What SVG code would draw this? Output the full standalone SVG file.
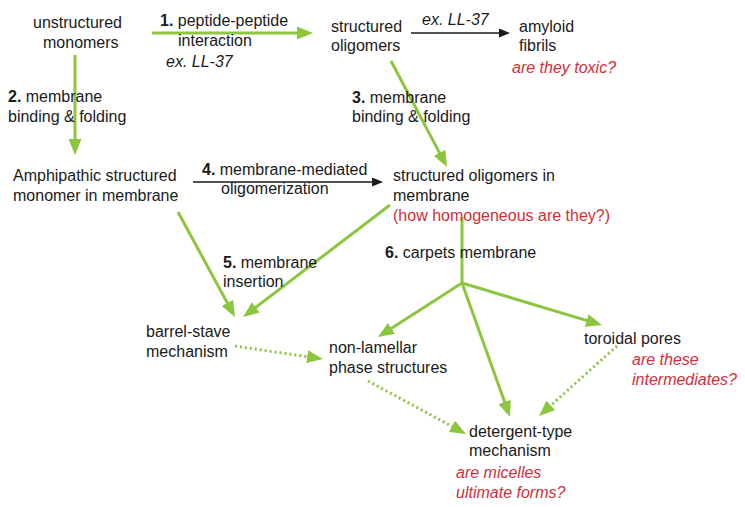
<svg xmlns="http://www.w3.org/2000/svg" width="745" height="507" viewBox="0 0 745 507">
<style>
text{font-family:"Liberation Sans",Arial,sans-serif;font-size:16px;fill:#1a1a1a}
.b{font-weight:bold}
.i{font-style:italic}
.r{fill:#d0303a;font-style:italic}
.g{stroke:#8cc63f;stroke-width:3;fill:none;marker-end:url(#ga)}
.gl{stroke:#8cc63f;stroke-width:3;fill:none}
.d{stroke:#8cc63f;stroke-width:3;fill:none;stroke-dasharray:2 3;marker-end:url(#ga)}
.k{stroke:#1a1a1a;stroke-width:1.3;fill:none;marker-end:url(#ka)}
</style>
<defs>
<marker id="ga" markerUnits="userSpaceOnUse" markerWidth="16" markerHeight="13" refX="11" refY="6.5" orient="auto">
<path d="M0,0 L16,6.5 L0,13 z" fill="#8cc63f"/>
</marker>
<marker id="ka" markerUnits="userSpaceOnUse" markerWidth="11" markerHeight="9" refX="9" refY="4.5" orient="auto">
<path d="M0,0 L11,4.5 L0,9 z" fill="#1a1a1a"/>
</marker>
</defs>
<g id="connectors">
<line class="g" x1="152" y1="33" x2="308" y2="33"/>
<line class="g" x1="75" y1="55" x2="75" y2="150"/>
<line class="g" x1="391" y1="61" x2="444.7" y2="162.6"/>
<line class="k" x1="411" y1="33" x2="508" y2="33"/>
<line class="k" x1="193" y1="182" x2="381" y2="182"/>
<line class="g" x1="178" y1="212" x2="232.6" y2="312.6"/>
<line class="g" x1="390" y1="205" x2="247" y2="314"/>
<line class="gl" x1="462" y1="217" x2="462" y2="283"/>
<line class="g" x1="462" y1="283" x2="382.2" y2="334.3"/>
<line class="g" x1="462" y1="283" x2="508.3" y2="412.3"/>
<line class="g" x1="462" y1="283" x2="597.2" y2="323.6"/>
<line class="d" x1="235" y1="346" x2="318" y2="358.3"/>
<line class="d" x1="368" y1="381" x2="461.6" y2="431.6"/>
<line class="d" x1="617" y1="346" x2="542.7" y2="412.7"/>
</g>
<g id="unstructured-monomers">
<text x="33" y="28">unstructured</text>
<text x="43" y="48">monomers</text>
</g>
<g id="label-1">
<text x="160" y="26"><tspan class="b">1.</tspan> peptide-peptide</text>
<text x="178" y="46">interaction</text>
<text x="166" y="67" class="i">ex. LL-37</text>
</g>
<g id="structured-oligomers">
<text x="331" y="32">structured</text>
<text x="331" y="51">oligomers</text>
</g>
<g id="label-exLL37">
<text x="422" y="25" class="i">ex. LL-37</text>
</g>
<g id="amyloid-fibrils">
<text x="519" y="32">amyloid</text>
<text x="519" y="51">fibrils</text>
<text x="512" y="73" class="r">are they toxic?</text>
</g>
<g id="label-2">
<text x="8" y="102"><tspan class="b">2.</tspan> membrane</text>
<text x="8" y="122">binding &amp; folding</text>
</g>
<g id="label-3">
<text x="352" y="103"><tspan class="b">3.</tspan> membrane</text>
<text x="352" y="122">binding &amp; folding</text>
</g>
<g id="amphipathic-monomer">
<text x="13" y="181">Amphipathic structured</text>
<text x="13" y="201">monomer in membrane</text>
</g>
<g id="label-4">
<text x="202" y="175"><tspan class="b">4.</tspan> membrane-mediated</text>
<text x="221" y="194">oligomerization</text>
</g>
<g id="oligomers-in-membrane">
<text x="393" y="181">structured oligomers in</text>
<text x="393" y="201">membrane</text>
<text x="393" y="221" class="r" style="font-style:normal">(how homogeneous are they?)</text>
</g>
<g id="label-5">
<text x="223" y="268"><tspan class="b">5.</tspan> membrane</text>
<text x="223" y="287">insertion</text>
</g>
<g id="label-6">
<text x="385" y="258"><tspan class="b">6.</tspan> carpets membrane</text>
</g>
<g id="barrel-stave">
<text x="146" y="337">barrel-stave</text>
<text x="146" y="357">mechanism</text>
</g>
<g id="non-lamellar">
<text x="329" y="353">non-lamellar</text>
<text x="329" y="373">phase structures</text>
</g>
<g id="toroidal-pores">
<text x="584" y="344">toroidal pores</text>
<text x="632" y="365" class="r">are these</text>
<text x="632" y="385" class="r">intermediates?</text>
</g>
<g id="detergent-type">
<text x="469" y="437">detergent-type</text>
<text x="469" y="456">mechanism</text>
<text x="456" y="478" class="r">are micelles</text>
<text x="456" y="498" class="r">ultimate forms?</text>
</g>
</svg>
